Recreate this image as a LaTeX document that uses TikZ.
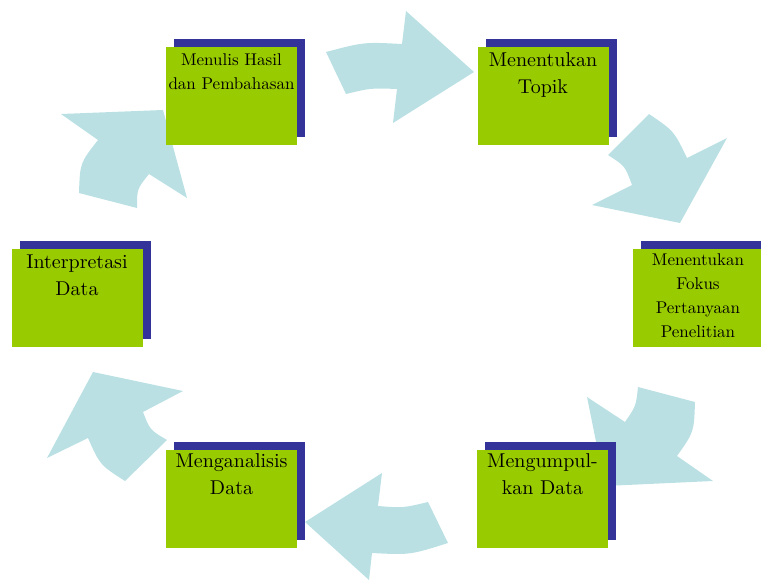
\documentclass[tikz,border=0pt]{standalone}
\usepackage{fontspec}
\setmainfont{lmroman10-regular.otf}
\usepackage{tikz}
\usetikzlibrary{positioning,shadows}
\definecolor{panah}{RGB}{186,224,228}
\definecolor{hijau}{RGB}{153,204,0}
\definecolor{biru}{RGB}{51,51,153}
\begin{document}
\begin{tikzpicture}
[x=1pt,y=-1pt,
kotak/.style = {rectangle, fill = hijau, minimum width = 131pt, minimum height = 98pt, inner sep = 0pt, outer sep = 0pt, general shadow = {fill = biru, shadow xshift = 8pt, shadow yshift = 8pt}},
teks/.style = {align = center, inner sep = 0pt, font = \fontsize{20}{27}\selectfont},
tekskecil/.style = {align = center, inner sep = 0pt, font = \fontsize{17}{24}\selectfont},
panahbiru/.style = {fill = panah},]
\useasboundingbox (0,0) rectangle (761,581);
\clip (0,0) rectangle (761,581);
\fill[panahbiru] (326,52) .. controls (364,42) .. (402,44) -- (406,11) -- (474,72) -- (393,123) -- (397,89) .. controls (371,88) .. (346,94) -- cycle;
\fill[panahbiru] (649,114) .. controls (674,131) .. (687,158) -- (727,138) -- (680,223) -- (592,205) -- (632,185) .. controls (625,166) .. (608,155) -- cycle;
\fill[panahbiru] (638,387) -- (695,402) .. controls (694,432) .. (677,456) -- (713,481) -- (605,486) -- (587,397) -- (625,422) .. controls (636,406) .. (638,387) -- cycle;
\fill[panahbiru] (305,522) -- (382,473) -- (378,506) .. controls (403,508) .. (428,502) -- (448,543) .. controls (410,555) .. (372,553) -- (369,580) -- cycle;
\fill[panahbiru] (93,372) -- (183,391) -- (143,412) .. controls (150,430) .. (167,440) -- (125,481) .. controls (100,465) .. (88,438) -- (47,458) -- cycle;
\fill[panahbiru] (61,114) -- (163,110) -- (187,198) -- (149,174) .. controls (137,189) .. (137,208) -- (79,193) .. controls (80,163) .. (98,140) -- cycle;

\node (hasil) at (231.5,96) [kotak] {};
\node (topik) at (543,96) [kotak] {};
\node (fokus) at (698,297.5) [kotak] {};
\node (tafsir) at (77,297.5) [kotak] {};
\node (analisis) at (231.5,498.5) [kotak] {};
\node (kumpul) at (542.5,498.5) [kotak] {};

\node (hasilteks) [tekskecil, below = 6pt of hasil.north] {Menulis Hasil\\dan Pembahasan};
\node (topikteks) [teks, below = 5pt of topik.north] {Menentukan\\Topik};
\node (fokusteks) [tekskecil, below = 5pt of fokus.north] {Menentukan\\Fokus\\Pertanyaan\\Penelitian};
\node (tafsirteks) [teks, below = 6pt of tafsir.north] {Interpretasi\\Data};
\node (analisisteks) [teks, below = 4pt of analisis.north] {Menganalisis\\Data};
\node (kumpulteks) [teks, below = 4pt of kumpul.north] {Mengumpul-\\kan Data};

\end{tikzpicture}
\end{document}
